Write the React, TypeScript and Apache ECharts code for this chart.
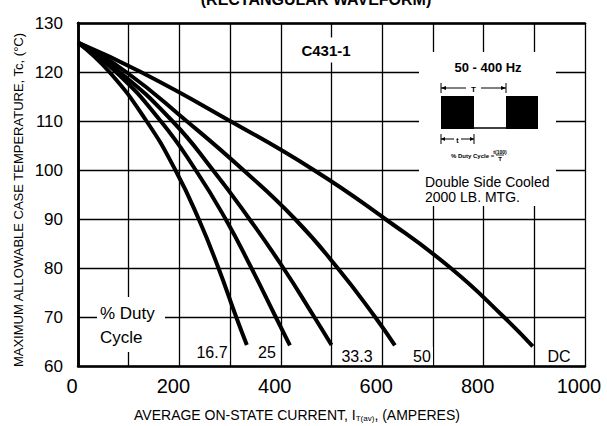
import React, { useEffect, useRef } from "react";
import * as echarts from "echarts";

const xTicks = [0, 200, 400, 600, 800, 1000];
const yTicks = [60, 70, 80, 90, 100, 110, 120, 130];

const duty167: [number, number][] = [[0, 126], [62, 120], [135, 110], [192, 100], [238, 90], [277, 80], [312, 70], [333, 64.3]];
const duty25: [number, number][] = [[0, 126], [75, 120], [163, 110], [232, 100], [291, 90], [342, 80], [390, 70], [418, 64.2]];
const duty333: [number, number][] = [[0, 126], [82, 120], [186, 110], [266, 100], [338, 90], [405, 80], [466, 70], [500, 64.3]];
const duty50: [number, number][] = [[0, 126], [95, 120], [214, 110], [326, 100], [428, 90], [512, 80], [586, 70], [625, 64.2]];
const dutyDC: [number, number][] = [[0, 126], [124, 120], [300, 110], [465, 100], [606, 90], [735, 80], [840, 70], [897, 64]];

const seriesNames = ["16.7", "25", "33.3", "50", "DC"];
const seriesData = [duty167, duty25, duty333, duty50, dutyDC];

const FONT = "'Liberation Sans', Arial, Helvetica, sans-serif";

export default function App() {
  const ref = useRef<HTMLDivElement>(null);
  useEffect(() => {
    if (!ref.current) return;
    const chart = echarts.init(ref.current, null, { renderer: "svg" });
    const txt = (x: number, y: number, text: string, size: number, extra: any = {}) => {
      const style: any = {
        text,
        fill: "#000",
        font: `${extra.weight || "normal"} ${size}px ${FONT}`,
        align: extra.align || "center",
        verticalAlign: "middle",
      };
      if (extra.bg) {
        style.backgroundColor = "#fff";
        style.padding = extra.pad || [1, 2];
      }
      return { type: "text", x, y, z: 110, rotation: extra.rotation || 0, style };
    };
    const ln = (x1: number, y1: number, x2: number, y2: number, w = 1) => ({
      type: "line", z: 110, shape: { x1, y1, x2, y2 }, style: { stroke: "#000", lineWidth: w },
    });
    const tri = (pts: number[][]) => ({ type: "polygon", z: 110, shape: { points: pts }, style: { fill: "#000" } });
    const border = { show: true, lineStyle: { color: "#000", width: 2.5 } };
    chart.setOption({
      animation: false,
      backgroundColor: "#fff",
      grid: { left: 78, right: 22, top: 23, bottom: 60 },
      xAxis: [
        {
          type: "value",
          min: xTicks[0],
          max: xTicks[xTicks.length - 1],
          interval: 100,
          axisLine: border,
          axisTick: { show: false },
          axisLabel: {
            color: "#000", fontSize: 20, fontFamily: FONT, margin: 10, interval: 0, padding: [0, 12, 0, 0],
            formatter: (v: number) => (xTicks.indexOf(v) >= 0 ? String(v) : ""),
          },
          splitLine: { show: true, lineStyle: { color: "#000", width: 1.3 } },
        },
        {
          type: "value", position: "top", min: xTicks[0], max: xTicks[xTicks.length - 1],
          axisLine: border, axisTick: { show: false }, axisLabel: { show: false }, splitLine: { show: false },
        },
      ],
      yAxis: [
        {
          type: "value",
          min: yTicks[0],
          max: yTicks[yTicks.length - 1],
          interval: 10,
          axisLine: border,
          axisTick: { show: false },
          axisLabel: { color: "#000", fontSize: 17, fontFamily: FONT, margin: 15 },
          splitLine: { show: true, lineStyle: { color: "#000", width: 1.3 } },
        },
        {
          type: "value", position: "right", min: yTicks[0], max: yTicks[yTicks.length - 1],
          axisLine: border, axisTick: { show: false }, axisLabel: { show: false }, splitLine: { show: false },
        },
      ],
      series: seriesData.map((d, i) => ({
        name: seriesNames[i],
        type: "line",
        xAxisIndex: 0,
        yAxisIndex: 0,
        data: d,
        smooth: 0.5,
        symbol: "none",
        z: 5,
        lineStyle: { color: "#000", width: 4 },
      })),
      graphic: [
        txt(316, -1, "(RECTANGULAR WAVEFORM)", 16, { weight: "bold" }),
        { type: "rect", z: 100, shape: { x: 419, y: 52, width: 137, height: 154 }, style: { fill: "#fff" } },
        { type: "rect", z: 100, shape: { x: 97, y: 297, width: 68, height: 55 }, style: { fill: "#fff" } },
        txt(326, 50, "C431-1", 15, { weight: "bold", bg: true, pad: [5, 4] }),
        txt(488, 67, "50 - 400 Hz", 13, { weight: "bold" }),
        ln(441, 88, 466, 88), ln(481, 88, 506, 88), ln(441, 83, 441, 93), ln(506, 83, 506, 93),
        tri([[441, 88], [446, 86], [446, 90]]), tri([[506, 88], [501, 86], [501, 90]]),
        txt(473.5, 89, "T", 8, { weight: "bold" }),
        { type: "rect", z: 110, shape: { x: 441, y: 96, width: 33, height: 33 }, style: { fill: "#000" } },
        { type: "rect", z: 110, shape: { x: 506, y: 96, width: 32, height: 33 }, style: { fill: "#000" } },
        ln(474, 128, 506, 128, 1.5),
        ln(441, 134, 441, 144), ln(474, 134, 474, 144), ln(441, 139, 454, 139), ln(461, 139, 474, 139),
        tri([[441, 139], [445, 137], [445, 141]]), tri([[474, 139], [470, 137], [470, 141]]),
        txt(457.5, 140, "t", 7, { weight: "bold" }),
        txt(451, 156, "% Duty Cycle =", 6, { weight: "bold", align: "left" }),
        txt(500, 152, "t(100)", 5, { weight: "bold" }),
        ln(496, 155, 504, 155, 0.8),
        txt(500, 159, "T", 6, { weight: "bold" }),
        txt(425, 182, "Double Side Cooled", 14, { align: "left" }),
        txt(425, 197, "2000 LB. MTG.", 14, { align: "left" }),
        txt(100, 313, "% Duty", 17, { align: "left" }),
        txt(100, 337, "Cycle", 17, { align: "left" }),
        txt(212, 352, "16.7", 16, { bg: true }),
        txt(267, 352, "25", 16, { bg: true }),
        txt(357, 356, "33.3", 16, { bg: true }),
        txt(422, 356, "50", 16, { bg: true }),
        txt(559, 356, "DC", 16, { bg: true }),
        txt(18, 200, "MAXIMUM ALLOWABLE CASE TEMPERATURE, Tc, (°C)", 13, { rotation: Math.PI / 2 }),
        {
          type: "text",
          x: 297,
          y: 414,
          z: 110,
          style: {
            text: "{a|AVERAGE ON-STATE CURRENT, I}{s|T(av)}{a|, (AMPERES)}",
            align: "center",
            verticalAlign: "middle",
            fill: "#000",
            rich: {
              a: { fontSize: 14, fontFamily: FONT, fill: "#000", verticalAlign: "bottom", lineHeight: 16 },
              s: { fontSize: 8, fontFamily: FONT, fill: "#000", verticalAlign: "bottom", lineHeight: 11 },
            },
          },
        },
      ],
    });
    return () => chart.dispose();
  }, []);
  return <div ref={ref} style={{ position: "absolute", left: 0, top: 0, width: 607, height: 426 }} />;
}
